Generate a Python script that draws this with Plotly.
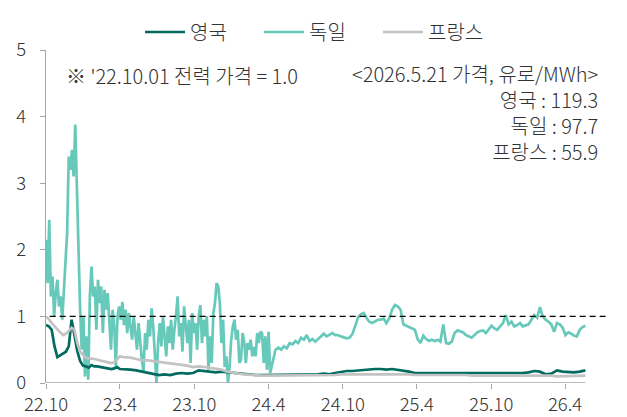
import pandas as pd
import plotly.graph_objects as go

# ---------------- data ----------------
tick_dates = ["2022-10-01", "2023-04-01", "2023-10-01", "2024-04-01",
              "2024-10-01", "2025-04-01", "2025-10-01", "2026-04-01"]
tick_labels = ["22.10", "23.4", "23.10", "24.4", "24.10", "25.4", "25.10", "26.4"]

# Germany: every 4 days (Oct-22 .. Apr-24), then weekly to 2026-05-21
de_early = [2.15, 1.5, 2.45, 1.3, 1.6, 1.0, 1.35, 1.55, 1.15, 1.3,
            0.95, 1.4, 1.7, 2.25, 3.4, 3.2, 3.5, 3.1, 3.88, 2.85,
            1.85, 1.1, 0.5, 1.0, 0.1, 0.7, 0.05, 1.3, 1.75, 1.3,
            1.45, 0.8, 1.55, 1.2, 1.45, 0.75, 1.4, 1.1, 1.35, 0.9,
            0.5, 1.1, 0.85, 0.24, 1.0, 1.15, 0.95, 1.22, 0.87, 1.1,
            0.75, 1.05, 0.87, 0.65, 1.0, 0.72, 0.5, 0.9, 0.6, 0.35,
            0.17, 0.75, 0.5, 0.95, 0.7, 1.12, 0.85, 0.45, 0.0, 0.6,
            0.9, 0.55, 1.0, 0.7, 0.4, 0.85, 0.6, 0.95, 0.5, 0.8,
            1.0, 1.3, 0.7, 0.9, 0.47, 1.15, 0.8, 0.6, 0.95, 0.3,
            1.05, 0.75, 0.9, 0.5, 1.0, 1.17, 0.6, 0.95, 0.7, 1.0,
            0.2, 0.7, 0.3, 1.05, 1.2, 1.5, 1.45, 1.2, 0.6, 0.95,
            0.24, 0.4, 0.0, 0.25, 0.65, 0.85, 0.95, 0.65, 0.8, 0.3,
            0.35, 0.75, 0.62, 0.3, 0.6, 0.5, 0.65, 0.4, 0.54, 0.4,
            0.75, 0.6, 0.77, 0.75, 0.3, 0.7, 0.2, 0.77, 0.15]
de_late = [0.5, 0.53, 0.5, 0.55, 0.52, 0.6, 0.58, 0.63, 0.6, 0.68,
           0.65, 0.72, 0.63, 0.66, 0.62, 0.66, 0.7, 0.74, 0.7, 0.73,
           0.75, 0.72, 0.72, 0.7, 0.68, 0.67, 0.68, 0.73, 0.85, 0.98,
           1.03, 1.05, 0.98, 0.92, 0.9, 0.93, 0.95, 0.95, 0.97, 0.9,
           0.97, 1.1, 1.17, 1.15, 1.1, 0.88, 0.86, 0.85, 0.83, 0.8,
           0.66, 0.6, 0.71, 0.66, 0.63, 0.65, 0.63, 0.65, 0.62, 0.88,
           0.6, 0.59, 0.62, 0.75, 0.79, 0.78, 0.76, 0.72, 0.7, 0.68,
           0.72, 0.76, 0.78, 0.79, 0.75, 0.8, 0.86, 0.82, 0.8, 0.85,
           0.9, 1.02, 0.88, 0.92, 0.85, 0.87, 0.9, 0.85, 0.87, 0.88,
           0.95, 1.02, 0.98, 1.14, 1.0, 0.95, 0.92, 0.88, 0.77, 0.9,
           0.88, 0.83, 0.72, 0.76, 0.74, 0.71, 0.7, 0.8, 0.84, 0.86]

# UK & France: weekly for first half-year, then bi-weekly to 2026-05-21
uk_early = [0.87, 0.85, 0.8, 0.55, 0.39, 0.42, 0.44, 0.47, 0.55, 0.95,
            0.72, 0.48, 0.33, 0.26, 0.25, 0.23, 0.27, 0.25, 0.25, 0.24,
            0.24, 0.23, 0.22, 0.21, 0.22, 0.24, 0.21, 0.21]
uk_late = [0.21, 0.2, 0.19, 0.17, 0.15, 0.13, 0.12, 0.13, 0.12, 0.14,
           0.15, 0.14, 0.15, 0.19, 0.18, 0.17, 0.16, 0.17, 0.16, 0.15,
           0.14, 0.13, 0.12, 0.12, 0.12, 0.12, 0.12, 0.12, 0.12, 0.13,
           0.13, 0.13, 0.13, 0.13, 0.13, 0.14, 0.13, 0.15, 0.17, 0.18,
           0.18, 0.19, 0.19, 0.2, 0.21, 0.21, 0.2, 0.21, 0.2, 0.18,
           0.17, 0.15, 0.15, 0.14, 0.14, 0.14, 0.14, 0.14, 0.14, 0.14,
           0.14, 0.14, 0.14, 0.14, 0.14, 0.14, 0.14, 0.14, 0.15, 0.15,
           0.15, 0.16, 0.18, 0.17, 0.13, 0.14, 0.19, 0.17, 0.16, 0.16,
           0.17, 0.19]
fr_early = [1.0, 0.96, 0.9, 0.85, 0.8, 0.76, 0.72, 0.74, 0.78, 0.83,
            0.8, 0.6, 0.47, 0.42, 0.38, 0.37, 0.37, 0.36, 0.35, 0.34,
            0.33, 0.32, 0.32, 0.3, 0.31, 0.36, 0.4, 0.39]
fr_late = [0.39, 0.38, 0.36, 0.34, 0.34, 0.33, 0.32, 0.31, 0.3, 0.29,
           0.27, 0.26, 0.24, 0.25, 0.24, 0.23, 0.22, 0.2, 0.17, 0.15,
           0.14, 0.13, 0.12, 0.12, 0.11, 0.11, 0.11, 0.12, 0.12, 0.12,
           0.12, 0.12, 0.12, 0.12, 0.12, 0.12, 0.12, 0.12, 0.13, 0.13,
           0.14, 0.14, 0.14, 0.14, 0.14, 0.14, 0.14, 0.14, 0.14, 0.14,
           0.13, 0.12, 0.12, 0.13, 0.13, 0.12, 0.12, 0.12, 0.12, 0.12,
           0.12, 0.11, 0.11, 0.11, 0.11, 0.11, 0.11, 0.11, 0.11, 0.12,
           0.12, 0.12, 0.12, 0.11, 0.11, 0.11, 0.1, 0.1, 0.1, 0.1,
           0.11, 0.11]

start_date = "2022-10-01"
end_date = "2026-05-21"

de_dates = (list(pd.date_range(start_date, periods=len(de_early), freq="4D")) +
            list(pd.date_range(end=end_date, periods=len(de_late), freq="7D")))
ukfr_early_dates = list(pd.date_range(start_date, periods=len(uk_early), freq="7D"))
ukfr_late_dates = list(pd.date_range(end=end_date, periods=len(uk_late), freq="14D"))

# ---------------- figure ----------------
FONT = "Noto Sans CJK KR, Noto Sans, sans-serif"
FS = 20
FW = 300
TXT = "#333333"
C_UK = "#006B5E"
C_DE = "#66C9B9"
C_FR = "#C3C3C3"

W, H = 627, 417
L, R, T, B = 46, 20, 50, 34
pw, ph = W - L - R, H - T - B

def px(xp):
    return (xp - L) / pw

def py(yp):
    return (H - B - yp) / ph

fnt = dict(family=FONT, size=FS, color=TXT, weight=FW)
tick_fnt = dict(family=FONT, size=18.5, color=TXT, weight=FW)

fig = go.Figure()
fig.add_trace(go.Scatter(x=de_dates, y=de_early + de_late, mode="lines", name="독일",
                         line=dict(color=C_DE, width=2.7), legendrank=2))
fig.add_trace(go.Scatter(x=ukfr_early_dates + ukfr_late_dates, y=uk_early + uk_late,
                         mode="lines", name="영국",
                         line=dict(color=C_UK, width=2.7), legendrank=1))
fig.add_trace(go.Scatter(x=ukfr_early_dates + ukfr_late_dates, y=fr_early + fr_late,
                         mode="lines", name="프랑스",
                         line=dict(color=C_FR, width=2.7), legendrank=3))

x_end_range = pd.Timestamp(end_date) + pd.Timedelta(days=(607 - 585.4) * 2.462)

# reference line at 1.0
fig.add_shape(type="line", xref="x", yref="y", x0="2022-10-10", x1=x_end_range,
              y0=1, y1=1, line=dict(color="black", width=1.2, dash="6px,4px"))
# x axis baseline
fig.add_shape(type="line", xref="x", yref="y", x0=start_date, x1=end_date,
              y0=0, y1=0, line=dict(color="#A6A6A6", width=1.3))

fig.add_annotation(x=px(64), y=py(75), xref="paper", yref="paper",
                   text="※ '22.10.01 전력 가격 = 1.0", showarrow=False,
                   xanchor="left", yanchor="middle", font=fnt)
right_lines = ["&lt;2026.5.21 가격, 유로/MWh&gt;", "영국 : 119.3", "독일 : 97.7", "프랑스 : 55.9"]
fig.add_annotation(x=px(600), y=py(57), xref="paper", yref="paper",
                   text="<br>".join(right_lines), showarrow=False, align="right",
                   xanchor="right", yanchor="top", font=fnt)

fig.update_layout(
    width=W, height=H,
    margin=dict(l=L, r=R, t=T, b=B, autoexpand=False),
    paper_bgcolor="white", plot_bgcolor="white",
    font=fnt,
    showlegend=True,
    legend=dict(orientation="h", x=px(140), y=py(32), xanchor="left", yanchor="middle",
                font=fnt, bgcolor="rgba(0,0,0,0)", itemwidth=40,
                entrywidth=64, entrywidthmode="pixels"),
    xaxis=dict(range=[start_date, x_end_range], tickvals=tick_dates, ticktext=tick_labels,
               showgrid=False, zeroline=False, showline=False,
               ticks="outside", ticklen=5, tickcolor="#A6A6A6", tickwidth=1.3,
               tickfont=tick_fnt),
    yaxis=dict(range=[0, 5], tickvals=[0, 1, 2, 3, 4, 5],
               showgrid=False, zeroline=False, showline=True, linecolor="#A6A6A6",
               linewidth=1.3, ticks="outside", ticklen=5, tickcolor="#A6A6A6",
               tickwidth=1.3, ticklabelstandoff=10,
               tickfont=tick_fnt),
)

fig.write_html("out.html", config={"displayModeBar": False},
               post_script="document.body.style.margin='0';document.body.style.overflow='hidden';")
